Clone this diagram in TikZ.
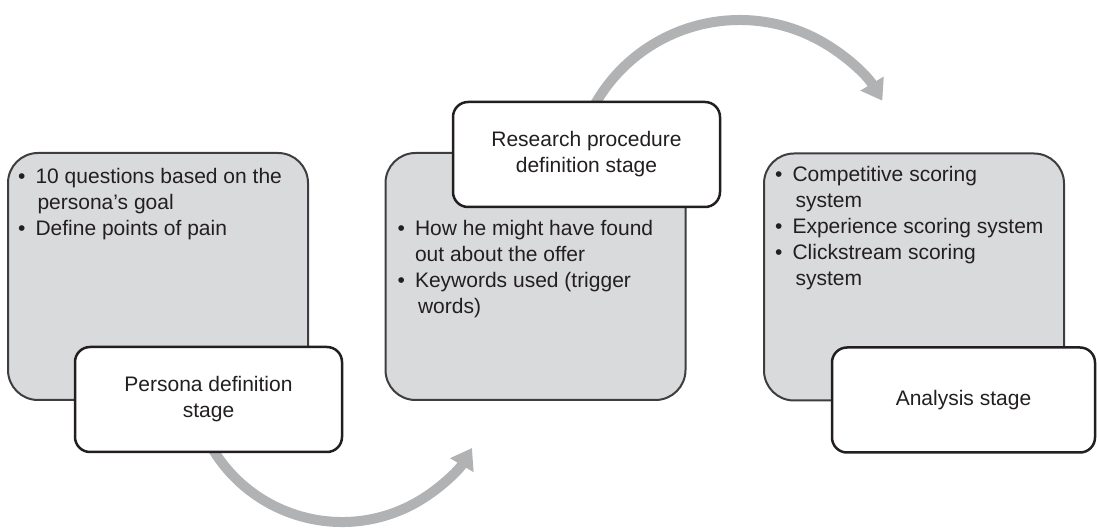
\documentclass[tikz,border=0pt]{standalone}
\usepackage{fontspec}
\setmainfont{Liberation Sans}
\usetikzlibrary{arrows.meta,positioning}

\definecolor{panelgray}{HTML}{D9DADB}
\definecolor{paneledge}{HTML}{3E3E40}
\definecolor{flowgray}{HTML}{B1B2B4}
\definecolor{inkblack}{HTML}{231F20}

\tikzset{
  panel/.style={draw=paneledge, fill=panelgray, line width=2pt, rounded corners=30pt,
    minimum width=300pt, minimum height=247pt, inner sep=0pt},
  stagebox/.style={draw=inkblack, fill=white, line width=2.5pt, rounded corners=15pt,
    minimum width=267pt, minimum height=105pt, align=center, text=inkblack},
  bullets/.style={anchor=north west, inner sep=0pt, text=inkblack},
  flow/.style={draw=flowgray, line width=10pt, -{Triangle[length=20pt,width=26pt]}}
}

\newcommand{\bul}{\textbullet}

\begin{document}
\begin{tikzpicture}[x=1pt,y=1pt,font=\fontsize{21}{26}\selectfont]
    \useasboundingbox (0,0) rectangle (1097,530);

    % Grey panels
    \node[panel] (pbox) at (158,253.5) {};
    \node[panel] (rbox) at (535.5,253.5) {};
    \node[panel] (abox) at (914,253) {};

    % Panel contents
    \node[bullets, below right=13pt and 11pt of pbox.north west] (ptext) {%
      \begin{tabular}{@{}l@{\hspace{10pt}}l@{}}
        \bul & 10 questions based on the\\
             & \hspace{2pt}persona’s goal\\
        \bul & Define points of pain
      \end{tabular}};
    \node[bullets, below right=65pt and 13pt of rbox.north west] (rtext) {%
      \begin{tabular}{@{}l@{\hspace{10pt}}l@{}}
        \bul & How he might have found\\
             & out about the offer\\
        \bul & Keywords used (trigger\\
             & \hspace{3pt}words)
      \end{tabular}};
    \node[bullets, below right=11pt and 12pt of abox.north west] (atext) {%
      \begin{tabular}{@{}l@{\hspace{10pt}}l@{}}
        \bul & Competitive scoring\\
             & \hspace{3pt}system\\
        \bul & Experience scoring system\\
        \bul & Clickstream scoring\\
             & \hspace{3pt}system
      \end{tabular}};

    % Curved arrows between stages
    \coordinate (lowstart) at (212,82);
    \coordinate (highstart) at (594,424);
    \draw[flow] (lowstart) arc[start angle=210.7, end angle=329.3, radius=151.2];
    \draw[flow] (highstart) arc[start angle=151.1, end angle=31, radius=166.4];

    % Stage labels
    \node[stagebox] (pstage) at (208.5,130.5) {Persona definition\\stage};
    \node[stagebox] (rstage) at (586.5,375.5) {Research procedure\\definition stage};
    \node[stagebox, minimum width=263pt] (astage) at (963.5,130) {Analysis stage};
\end{tikzpicture}
\end{document}
